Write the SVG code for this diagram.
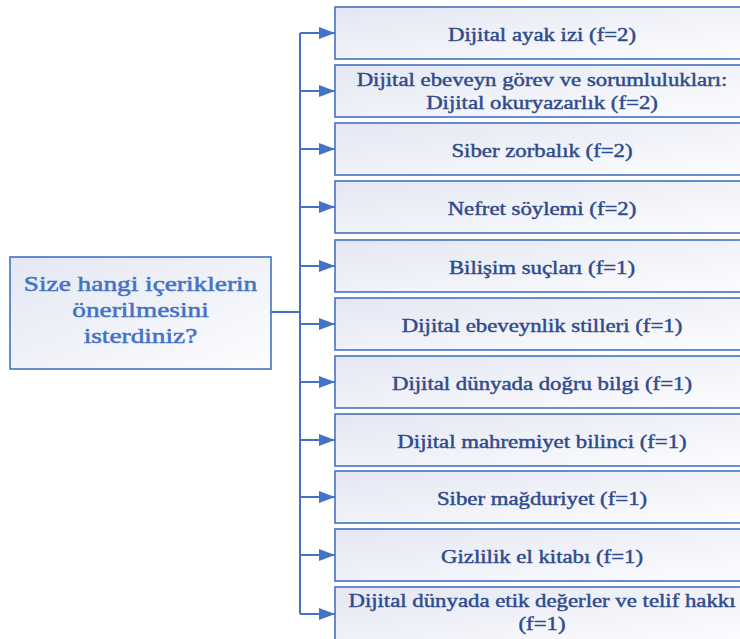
<svg xmlns="http://www.w3.org/2000/svg" width="740" height="639" viewBox="0 0 740 639">
<style>
.box{stroke:#4472C4;stroke-width:1.6;fill:url(#g)}
.t{font-family:"Liberation Serif","Times New Roman",serif;font-size:19px;fill:#2F4B8C;stroke:#2F4B8C;stroke-width:0.45;text-anchor:middle}
.q{font-family:"Liberation Serif","Times New Roman",serif;font-size:21px;fill:#4472C4;stroke:#4472C4;stroke-width:0.5;text-anchor:middle}
.c{stroke:#4472C4;stroke-width:2;fill:none}
</style>
<defs>
<linearGradient id="g" x1="0" y1="0" x2="1" y2="1">
<stop offset="0" stop-color="#E4E7F3"/>
<stop offset="1" stop-color="#FDFDFE"/>
</linearGradient>
<marker id="a" markerWidth="16" markerHeight="12" refX="16" refY="6" orient="auto" markerUnits="userSpaceOnUse">
<path d="M0,0 L16,6 L0,12 Z" fill="#4472C4"/>
</marker>
</defs>
<g id="connectors">
<path class="c" d="M271,312 H300"/>
<path class="c" d="M300,33 V614"/>
<path class="c" d="M300,33 H335" marker-end="url(#a)"/>
<path class="c" d="M300,91 H335" marker-end="url(#a)"/>
<path class="c" d="M300,149 H335" marker-end="url(#a)"/>
<path class="c" d="M300,207 H335" marker-end="url(#a)"/>
<path class="c" d="M300,266 H335" marker-end="url(#a)"/>
<path class="c" d="M300,324 H335" marker-end="url(#a)"/>
<path class="c" d="M300,382 H335" marker-end="url(#a)"/>
<path class="c" d="M300,440 H335" marker-end="url(#a)"/>
<path class="c" d="M300,497 H335" marker-end="url(#a)"/>
<path class="c" d="M300,555 H335" marker-end="url(#a)"/>
<path class="c" d="M300,614 H335" marker-end="url(#a)"/>
</g>
<g id="root">
<rect class="box" x="10" y="257" width="261" height="112"/>
<g transform="translate(140.5 0) scale(1.3 1)">
<text class="q" x="0" y="291">Size hangi içeriklerin</text>
<text class="q" x="0" y="317">önerilmesini</text>
<text class="q" x="0" y="343">isterdiniz?</text>
</g>
</g>
<g id="n1"><rect class="box" x="335" y="7" width="414" height="52"/><g transform="translate(542 0) scale(1.2 1)"><text class="t" x="0" y="41">Dijital ayak izi (f=2)</text></g></g>
<g id="n2"><rect class="box" x="335" y="65" width="414" height="52"/><g transform="translate(542 0) scale(1.2 1)"><text class="t" x="0" y="86">Dijital ebeveyn görev ve sorumlulukları:</text><text class="t" x="0" y="109">Dijital okuryazarlık (f=2)</text></g></g>
<g id="n3"><rect class="box" x="335" y="123" width="414" height="52"/><g transform="translate(542 0) scale(1.2 1)"><text class="t" x="0" y="157">Siber zorbalık (f=2)</text></g></g>
<g id="n4"><rect class="box" x="335" y="181" width="414" height="52"/><g transform="translate(542 0) scale(1.2 1)"><text class="t" x="0" y="215">Nefret söylemi (f=2)</text></g></g>
<g id="n5"><rect class="box" x="335" y="240" width="414" height="52"/><g transform="translate(542 0) scale(1.2 1)"><text class="t" x="0" y="274">Bilişim suçları (f=1)</text></g></g>
<g id="n6"><rect class="box" x="335" y="298" width="414" height="52"/><g transform="translate(542 0) scale(1.2 1)"><text class="t" x="0" y="332">Dijital ebeveynlik stilleri (f=1)</text></g></g>
<g id="n7"><rect class="box" x="335" y="356" width="414" height="52"/><g transform="translate(542 0) scale(1.2 1)"><text class="t" x="0" y="390">Dijital dünyada doğru bilgi (f=1)</text></g></g>
<g id="n8"><rect class="box" x="335" y="414" width="414" height="52"/><g transform="translate(542 0) scale(1.2 1)"><text class="t" x="0" y="448">Dijital mahremiyet bilinci (f=1)</text></g></g>
<g id="n9"><rect class="box" x="335" y="471" width="414" height="52"/><g transform="translate(542 0) scale(1.2 1)"><text class="t" x="0" y="505">Siber mağduriyet (f=1)</text></g></g>
<g id="n10"><rect class="box" x="335" y="529" width="414" height="52"/><g transform="translate(542 0) scale(1.2 1)"><text class="t" x="0" y="563">Gizlilik el kitabı (f=1)</text></g></g>
<g id="n11"><rect class="box" x="335" y="587" width="414" height="56"/><g transform="translate(542 0) scale(1.2 1)"><text class="t" x="0" y="607">Dijital dünyada etik değerler ve telif hakkı</text><text class="t" x="0" y="630">(f=1)</text></g></g>
</svg>
